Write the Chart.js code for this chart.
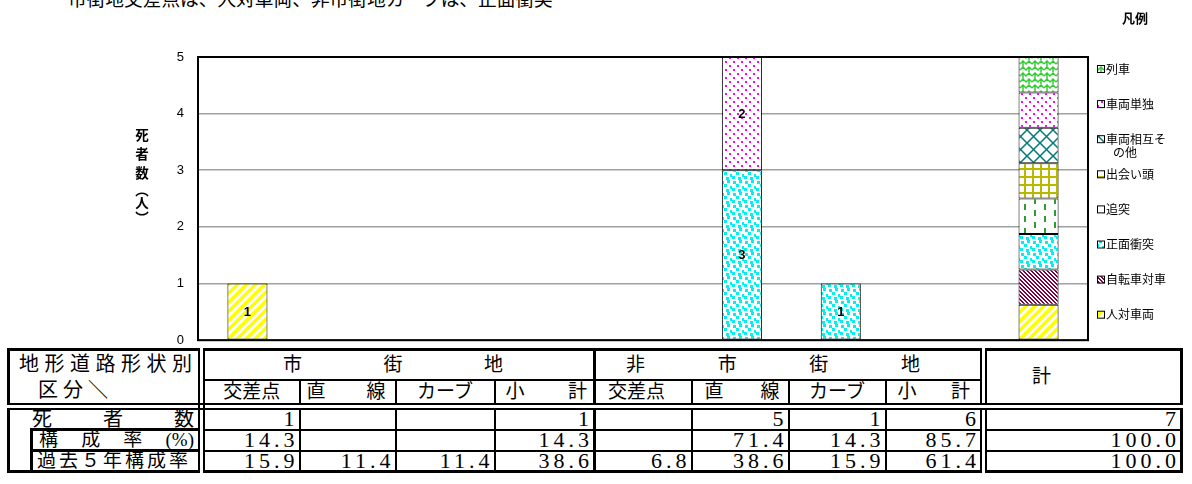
<!DOCTYPE html>
<html><head><meta charset="utf-8">
<script src="https://cdn.jsdelivr.net/npm/chart.js@4/dist/chart.umd.min.js"></script>
<style>
html,body{margin:0;padding:0;background:#fff;width:1192px;height:484px;overflow:hidden;position:relative;}
#title{position:absolute;left:68px;top:-12px;font:18.7px "Noto Sans CJK JP",sans-serif;white-space:nowrap;line-height:20px;color:#000;}
#c{position:absolute;left:0;top:0;}
#tbl{position:absolute;left:7px;top:348px;border-collapse:collapse;table-layout:fixed;font-family:"Liberation Serif","Noto Sans CJK JP",serif;font-size:19px;color:#000;border:3px solid #000;background:#fff;}
#tbl td{padding:0;border:2px solid #000;overflow:hidden;white-space:nowrap;line-height:18px;}
.sp{display:flex;justify-content:space-between;}
.num{text-align:right;letter-spacing:4px;font-size:22px;}
</style></head><body>
<div id="title">市街地交差点は、人対車両、非市街地カーブは、正面衝突</div>
<canvas id="c" width="1192" height="362"></canvas>
<table id="tbl"></table>
<script>
// ---- data ----
const categories = ['市街地交差点','市街地直線','市街地カーブ','市街地小計','非市街地交差点','非市街地直線','非市街地カーブ','非市街地小計','計'];
const seriesNames = ['人対車両','自転車対車','正面衝突','追突','出会い頭','車両相互その他','車両単独','列車'];
// last category (計) holds the pattern sample bar: 8 equal parts of 5
const pedestrianVsVehicle = [1,null,null,null,null,null,null,null,0.625];
const bicycleVsVehicle    = [null,null,null,null,null,null,null,null,0.625];
const headOn              = [null,null,null,null,null,3,1,null,0.625];
const rearEnd             = [null,null,null,null,null,null,null,null,0.625];
const crossing            = [null,null,null,null,null,null,null,null,0.625];
const otherVehicle        = [null,null,null,null,null,null,null,null,0.625];
const singleVehicle       = [null,null,null,null,null,2,null,null,0.625];
const train               = [null,null,null,null,null,null,null,null,0.625];
const yTicks = [0,1,2,3,4,5];

const tableSubHeads = ['交差点','直線','カーブ','小計','交差点','直線','カーブ','小計'];
const deathCounts = [1,null,null,1,null,5,1,6,7];
const shareRates = [14.3,null,null,14.3,null,71.4,14.3,85.7,100.0];
const pastFiveYearRates = [15.9,11.4,11.4,38.6,6.8,38.6,15.9,61.4,100.0];

const sampleIndex = categories.length - 1;
const seriesData = [pedestrianVsVehicle,bicycleVsVehicle,headOn,rearEnd,crossing,otherVehicle,singleVehicle,train];

// ---- patterns ----
const canvas = document.getElementById('c');
const mainCtx = canvas.getContext('2d');
function pat(w,h,draw){
  const t=document.createElement('canvas');t.width=w;t.height=h;
  const g=t.getContext('2d');g.fillStyle='#fff';g.fillRect(0,0,w,h);draw(g);
  return mainCtx.createPattern(t,'repeat');
}
const patterns = [
  pat(9,9,g=>{g.strokeStyle='#ffff00';g.lineWidth=3.4;g.beginPath();
    g.moveTo(-2,11);g.lineTo(11,-2);g.moveTo(-3,3);g.lineTo(3,-3);g.moveTo(6,12);g.lineTo(12,6);g.stroke();}),
  pat(4,4,g=>{g.fillStyle='#800040';for(let i=0;i<4;i++){g.fillRect(i,i,1,1);g.fillRect((i+1)%4,i,1,1);}}),
  pat(12,12,g=>{g.fillStyle='#00f0f0';[[1,1],[7,0],[4,4],[10,6],[0,8],[6,9]].forEach(p=>g.fillRect(p[0],p[1],3,3));}),
  pat(20,12,g=>{g.fillStyle='#339933';g.fillRect(4,0,2,6);g.fillRect(14,6,2,6);}),
  pat(8,8,g=>{g.fillStyle='#b8b800';g.fillRect(0,0,8,2);g.fillRect(0,0,2,8);}),
  pat(13,13,g=>{g.strokeStyle='#007a7a';g.lineWidth=1.5;g.beginPath();
    g.moveTo(0,0);g.lineTo(13,13);g.moveTo(13,0);g.lineTo(0,13);g.stroke();}),
  pat(8,8,g=>{g.fillStyle='#ff00ff';g.fillRect(1,1,2,2);g.fillRect(5,5,2,2);}),
  pat(12,12,g=>{g.strokeStyle='#33cc33';g.lineWidth=1.5;g.beginPath();
    [0,6].forEach(y0=>{g.moveTo(0,y0+4);g.lineTo(3,y0+1);g.lineTo(6,y0+4);g.lineTo(9,y0+1);g.lineTo(12,y0+4);});
    g.moveTo(3,1);g.lineTo(3,7);g.moveTo(9,7);g.lineTo(9,13);g.stroke();})
];

// ---- plugins ----
const valueLabels = {id:'valueLabels',afterDatasetsDraw(chart){
  const ctx=chart.ctx;ctx.save();ctx.font='bold 13px "Liberation Sans", sans-serif';
  ctx.fillStyle='#000';ctx.textAlign='center';ctx.textBaseline='middle';
  chart.data.datasets.forEach((ds,i)=>{chart.getDatasetMeta(i).data.forEach((bar,j)=>{
    const v=ds.data[j]; if(j===sampleIndex||v==null) return;
    const p=bar.getProps(['x','y','base'],true); ctx.fillText(String(v),p.x,(p.y+p.base)/2+1);});});
  ctx.restore();}};
const frame = {id:'frame',afterDatasetsDraw(chart){
  const a=chart.chartArea,ctx=chart.ctx;ctx.save();ctx.strokeStyle='#000';ctx.lineWidth=2;
  ctx.strokeRect(a.left,a.top,a.right-a.left,a.bottom-a.top);ctx.restore();}};
const sideText = {id:'sideText',afterDraw(chart){
  const ctx=chart.ctx;ctx.save();ctx.fillStyle='#000';ctx.textBaseline='middle';
  ctx.font='bold 13.5px "Noto Sans CJK JP", sans-serif';ctx.textAlign='center';
  const vt=['死','者','数','︵','人','︶'],vy=[135,154,173,190,203,218];
  vt.forEach((ch,i)=>ctx.fillText(ch,142,vy[i]));
  ctx.font='bold 13px "Noto Sans CJK JP", sans-serif';ctx.textAlign='left';
  ctx.fillText('凡例',1122,18);
  ctx.font='12px "Noto Sans CJK JP", sans-serif';
  const order=seriesNames.map((n,i)=>i).reverse();
  order.forEach((si,k)=>{
    const y=69+k*35.1;
    ctx.fillStyle=patterns[si];ctx.fillRect(1097,y-3.5,7,7);
    ctx.strokeStyle='#000';ctx.lineWidth=1;ctx.strokeRect(1097.5,y-3.5,7,7);
    ctx.fillStyle='#000';
    const name=seriesNames[si];let lines=[],cur='';
    for(const ch of name){if(ctx.measureText(cur+ch).width>66){lines.push(cur);cur=ch;}else cur+=ch;}
    lines.push(cur);
    lines.forEach((ln,li)=>ctx.fillText(ln,li?1113:1106,y+li*13));
  });
  ctx.restore();}};

new Chart(canvas,{
  type:'bar',
  data:{labels:categories,datasets:seriesData.map((d,i)=>({label:seriesNames[i],data:d,
    backgroundColor:patterns[i],borderColor:'#000',borderWidth:1,borderSkipped:false,
    barPercentage:0.405,categoryPercentage:1}))},
  options:{responsive:false,animation:false,devicePixelRatio:1,
    layout:{padding:{left:0,right:104,top:57,bottom:6}},
    plugins:{legend:{display:false},tooltip:{enabled:false}},
    scales:{
      x:{display:false,stacked:true},
      y:{stacked:true,min:yTicks[0],max:yTicks[yTicks.length-1],
        afterFit(s){s.width=198;},
        afterBuildTicks(s){s.ticks=yTicks.map(v=>({value:v}));},
        border:{display:false},
        grid:{color:'#a0a0a0',lineWidth:1.6,drawTicks:false},
        ticks:{padding:14,color:'#000',font:{size:13,family:'"Liberation Sans", sans-serif'}}}
    }},
  plugins:[valueLabels,frame,sideText]
});

// ---- table ----
const colW=[23,170,98,96,99,100,97,97,97,98,198];
const subPad=[[0,0,'c'],[6,9,'s'],[0,0,'c'],[10,6,'s'],[12,0,'l'],[12,8,'s'],[0,0,'c'],[11,10,'s']];
function cellText(t,spec){
  if(spec[2]==='c') return '<div style="text-align:center">'+t+'</div>';
  if(spec[2]==='l') return '<div style="padding-left:'+spec[0]+'px">'+t+'</div>';
  return '<div class="sp" style="padding:0 '+spec[1]+'px 0 '+spec[0]+'px">'+[...t].map(c=>'<span>'+c+'</span>').join('')+'</div>';
}
function spread(t,l,r){return '<div class="sp" style="padding:0 '+r+'px 0 '+l+'px">'+[...t].map(c=>'<span>'+c+'</span>').join('')+'</div>';}
function fmtInt(v){return v==null?'':String(v);}
function fmtRate(v){return v==null?'':v.toFixed(1);}
const DBL='7px double #000', THK='3px solid #000';
function numCells(arr,fmt){
  return arr.map((v,i)=>{
    let st='';
    if(i===3) st+='border-right:'+THK+';';
    if(i===7) st+='border-right:'+DBL+';';
    return '<td class="num" style="'+st+'">'+fmt(v)+'</td>';}).join('');
}
let h='<colgroup>'+colW.map(w=>'<col style="width:'+w+'px">').join('')+'</colgroup>';
h+='<tr style="height:27px"><td colspan="2" rowspan="2" style="border-right:'+DBL+';border-bottom:'+DBL+';font-size:20px;line-height:26px">'
  +'<div style="padding-left:9px;letter-spacing:5.5px">地形道路形状別</div><div style="padding-left:28px;letter-spacing:5px">区分＼</div></td>'
  +'<td colspan="4" style="border-right:'+THK+'">'+spread('市街地',78,90)+'</td>'
  +'<td colspan="4" style="border-right:'+DBL+'">'+spread('非市街地',30,60)+'</td>'
  +'<td rowspan="2" style="border-bottom:'+DBL+';padding-left:45px">計</td></tr>';
h+='<tr style="height:24px">'+tableSubHeads.map((t,i)=>{
    let st='border-bottom:'+DBL+';';
    if(i===3) st+='border-right:'+THK+';';
    if(i===7) st+='border-right:'+DBL+';';
    return '<td style="'+st+'">'+cellText(t,subPad[i])+'</td>';}).join('')+'</tr>';
h+='<tr style="height:20px"><td colspan="2" style="border-right:'+DBL+';border-bottom:'+THK+';font-size:20px">'+spread('死者数',22,4)+'</td>'+numCells(deathCounts,fmtInt)+'</tr>';
h+='<tr style="height:19px"><td rowspan="2" style="border-top-style:hidden;border-right:'+THK+'"></td><td style="border-right:'+DBL+';border-bottom:'+THK+'">'+spread('構成率(%)',6,4).replace('<span>(</span><span>%</span><span>)</span>','<span>(%)</span>')+'</td>'+numCells(shareRates,fmtRate)+'</tr>';
h+='<tr style="height:19px"><td style="border-right:'+DBL+';letter-spacing:3px;padding-left:4px">過去５年構成率</td>'+numCells(pastFiveYearRates,fmtRate)+'</tr>';
document.getElementById('tbl').innerHTML=h;
</script>
</body></html>
